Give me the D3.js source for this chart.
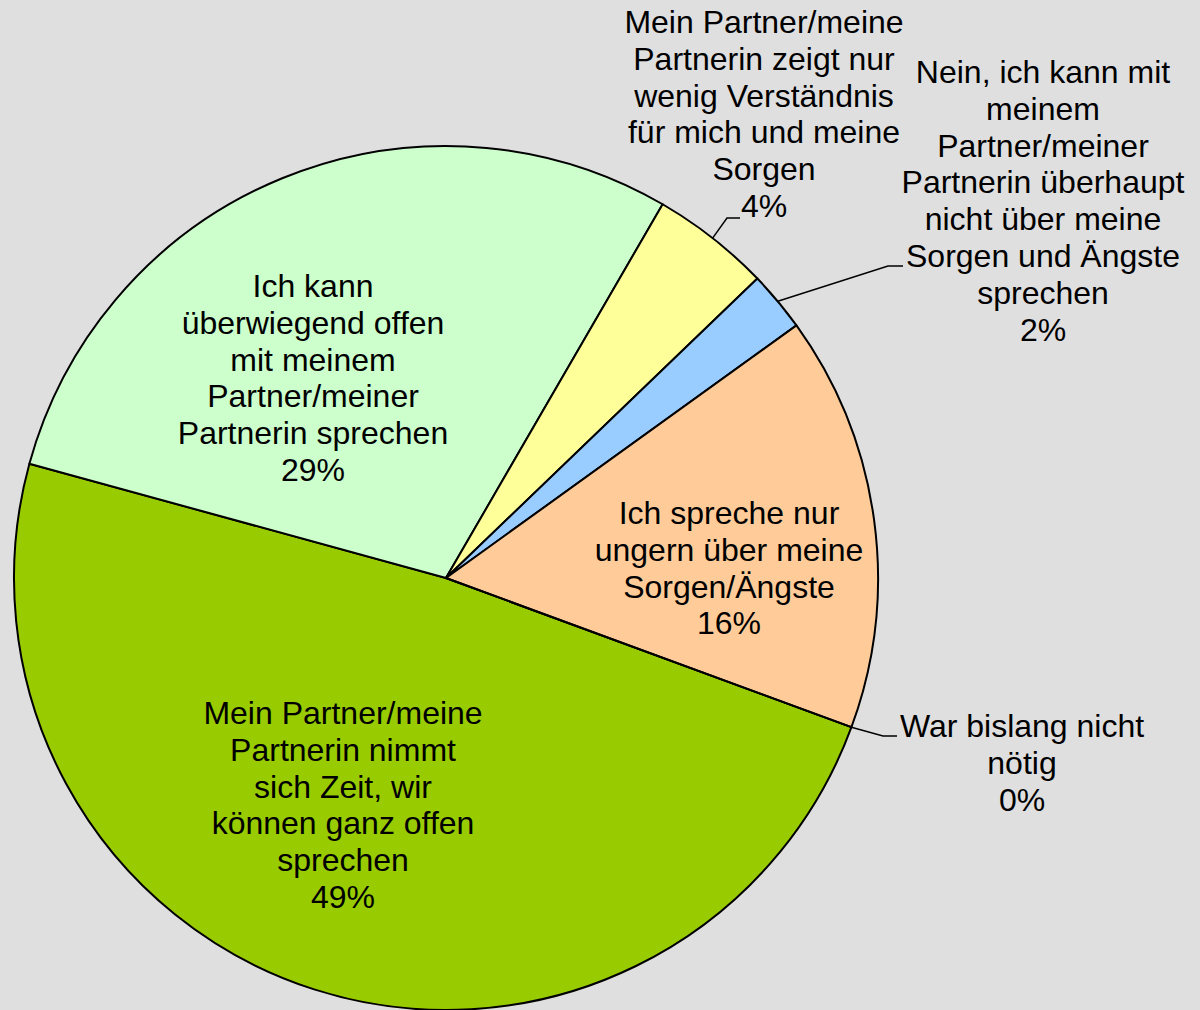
<!DOCTYPE html>
<html>
<head>
<meta charset="utf-8">
<script src="https://cdn.jsdelivr.net/npm/d3@7"></script>
<style>
  html, body { margin: 0; padding: 0; background: #dfdfdf; }
  svg { display: block; }
</style>
</head>
<body>
<div id="chart"></div>
<script>
// ---- Data ----
const categories = [
  "Mein Partner/meine\nPartnerin nimmt\nsich Zeit, wir\nkönnen ganz offen\nsprechen",
  "Ich kann\nüberwiegend offen\nmit meinem\nPartner/meiner\nPartnerin sprechen",
  "Mein Partner/meine\nPartnerin zeigt nur\nwenig Verständnis\nfür mich und meine\nSorgen",
  "Nein, ich kann mit\nmeinem\nPartner/meiner\nPartnerin überhaupt\nnicht über meine\nSorgen und Ängste\nsprechen",
  "Ich spreche nur\nungern über meine\nSorgen/Ängste",
  "War bislang nicht\nnötig"
];
const values = [48.65, 29.1, 4.45, 2.25, 15.55, 0];
const percentLabels = ["49%", "29%", "4%", "2%", "16%", "0%"];

// ---- Styles / layout ----
const colors = ["#99cc00", "#ccffcc", "#ffff99", "#99ccff", "#ffcc99", "#ffffff"];
const W = 1200, H = 1010;
const cx = 446, cy = 578, R = 432;
const rotationDeg = 110.2;
const fontSize = 32, lineH = 36.8;
// label anchor (center x, first baseline y) relative to pie center; optional leader elbow/end
const labelLayout = [
  { x: -103, y: 146 },
  { x: -133, y: -281 },
  { x: 318, y: -545, elbow: [281, -360], end: [294, -360] },
  { x: 597, y: -495, elbow: [442, -312], end: [457, -312] },
  { x: 283, y: -54 },
  { x: 576, y: 159, elbow: [437, 158], end: [451, 158] }
];

const svg = d3.select("#chart").append("svg")
  .attr("width", W).attr("height", H)
  .style("background", "#dfdfdf");

const g = svg.append("g").attr("transform", `translate(${cx},${cy})`);

const rot = rotationDeg * Math.PI / 180;
const pie = d3.pie().sort(null).value(d => d)
  .startAngle(rot).endAngle(rot + 2 * Math.PI);
const arcs = pie(values);
const arc = d3.arc().innerRadius(0).outerRadius(R);

g.selectAll("path.slice").data(arcs).enter().append("path")
  .attr("class", "slice")
  .attr("d", arc)
  .attr("fill", (d, i) => colors[i])
  .attr("stroke", "#000")
  .attr("stroke-width", 2)
  .attr("stroke-linejoin", "round");

// leader lines
const line = d3.line();
arcs.forEach((d, i) => {
  const L = labelLayout[i];
  if (!L.elbow) return;
  const a = (d.startAngle + d.endAngle) / 2;
  const p0 = [Math.sin(a) * R, -Math.cos(a) * R];
  g.append("path")
    .attr("d", line([p0, L.elbow, L.end]))
    .attr("fill", "none")
    .attr("stroke", "#000")
    .attr("stroke-width", 1.5);
});

// labels
arcs.forEach((d, i) => {
  const L = labelLayout[i];
  const lines = categories[i].split("\n").concat([percentLabels[i]]);
  const t = g.append("text")
    .attr("text-anchor", "middle")
    .attr("font-family", "'Liberation Sans', Arial, Helvetica, sans-serif")
    .attr("font-size", fontSize)
    .attr("fill", "#000");
  lines.forEach((s, k) => {
    t.append("tspan").attr("x", L.x).attr("y", L.y + k * lineH).text(s);
  });
});
</script>
</body>
</html>
